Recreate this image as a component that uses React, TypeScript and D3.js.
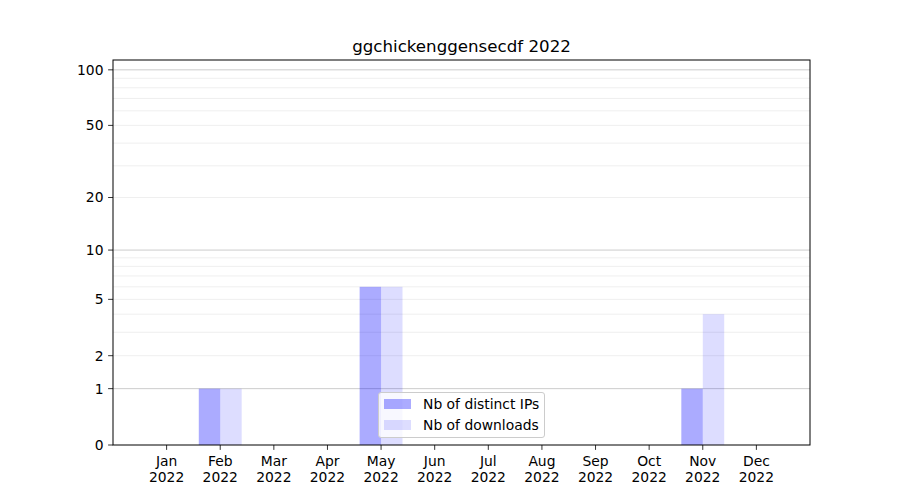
import React from "react";
import * as d3 from "d3";

const months = ["Jan", "Feb", "Mar", "Apr", "May", "Jun", "Jul", "Aug", "Sep", "Oct", "Nov", "Dec"];
const year = "2022";
const distinctIPs = [0, 1, 0, 0, 6, 0, 0, 0, 0, 0, 1, 0];
const downloads = [0, 1, 0, 0, 6, 0, 0, 0, 0, 0, 4, 0];
const yTicks = [0, 1, 2, 5, 10, 20, 50, 100];
const majorGrid = [1, 10, 100];
const minorGrid = [2, 3, 4, 5, 6, 7, 8, 9, 20, 30, 40, 50, 60, 70, 80, 90];
const title = "ggchickenggensecdf 2022";
const seriesNames = ["Nb of distinct IPs", "Nb of downloads"];

const W = 900, H = 500;
const L = 113, R = 810, T = 60, B = 445;
const FONT = "DejaVu Sans, sans-serif";
const FS = 13.89;

export default function App() {
  const x = d3.scaleLinear().domain([-1, 12]).range([L, R]);
  const y = d3.scaleSymlog().constant(1).domain([0, 113]).range([B, T]);
  const bw = x(0.4) - x(0);
  const c1 = "rgba(0,0,255,0.33)";
  const c2 = "rgba(0,0,255,0.135)";
  return (
    <svg width={W} height={H} style={{ display: "block", position: "absolute", left: 0, top: 0 }} fontFamily={FONT}>
      <rect x={0} y={0} width={W} height={H} fill="white" />
      {minorGrid.map((v) => (
        <line key={"mg" + v} x1={L} x2={R} y1={y(v)} y2={y(v)} stroke="#ebebeb" strokeWidth={0.8} />
      ))}
      {majorGrid.map((v) => (
        <line key={"Mg" + v} x1={L} x2={R} y1={y(v)} y2={y(v)} stroke="#cccccc" strokeWidth={1} />
      ))}
      {distinctIPs.map((v, i) =>
        v > 0 ? <rect key={"a" + i} x={x(i) - bw} y={y(v)} width={bw} height={y(0) - y(v)} fill={c1} /> : null
      )}
      {downloads.map((v, i) =>
        v > 0 ? <rect key={"b" + i} x={x(i)} y={y(v)} width={bw} height={y(0) - y(v)} fill={c2} /> : null
      )}
      <rect x={L} y={T} width={R - L} height={B - T} fill="none" stroke="black" strokeWidth={1} />
      {yTicks.map((v) => (
        <g key={"yt" + v}>
          <line x1={L - 4.9} x2={L} y1={y(v)} y2={y(v)} stroke="black" strokeWidth={0.8} />
          <text x={L - 9.5} y={y(v)} dy="0.35em" textAnchor="end" fontSize={FS} fill="black">{v}</text>
        </g>
      ))}
      {months.map((m, i) => (
        <g key={"xt" + m}>
          <line x1={x(i)} x2={x(i)} y1={B} y2={B + 4.9} stroke="black" strokeWidth={0.8} />
          <text x={x(i)} y={466} textAnchor="middle" fontSize={FS} fill="black">{m}</text>
          <text x={x(i)} y={482} textAnchor="middle" fontSize={FS} fill="black">{year}</text>
        </g>
      ))}
      <text x={(L + R) / 2} y={52} textAnchor="middle" fontSize={16.67} fill="black">{title}</text>
      <g>
        <rect x={378.5} y={392.5} width={166} height={45} rx={2.5} fill="white" fillOpacity={0.8} stroke="#cccccc" strokeWidth={1} />
        <rect x={384} y={399} width={27} height={10} fill={c1} />
        <rect x={384} y={420} width={27} height={10} fill={c2} />
        <text x={423} y={409} fontSize={FS} fill="black">{seriesNames[0]}</text>
        <text x={423} y={430} fontSize={FS} fill="black">{seriesNames[1]}</text>
      </g>
    </svg>
  );
}
